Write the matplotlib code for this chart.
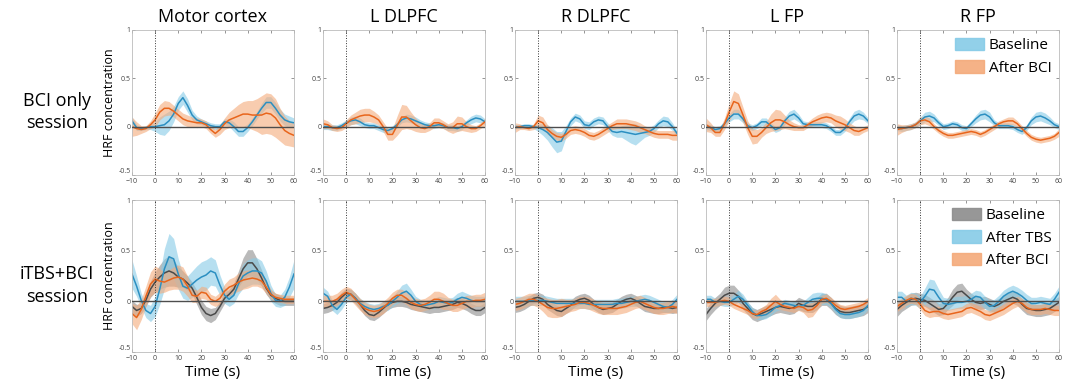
import numpy as np
import matplotlib.pyplot as plt
from matplotlib.patches import Patch

plt.rcParams['font.family'] = ['Open Sans', 'DejaVu Sans']

# time axis (s)
t = np.arange(-10, 61, 2)

regions = ['Motor cortex', 'L DLPFC', 'R DLPFC', 'L FP', 'R FP']
row_labels = ['BCI only\nsession', 'iTBS+BCI\nsession']
xticks = [-10, 0, 10, 20, 30, 40, 50, 60]
yticks = [-0.5, 0, 0.5, 1]
ytick_labels = ['-0.5', '0', '0.5', '1']

# ---------------- BCI only session ----------------
# Motor cortex
s1_base_mc = [.06, -.01, -.02, -.01, 0, 0, .01, .02, .06, .13, .24, .30, .22, .12, .07, .05, .03, .01,
              0, 0, .05, .04, 0, -.05, -.05, -.01, .05, .12, .19, .25, .25, .19, .12, .07, .05, .04]
s1_base_mc_sd = [.04, .03, .02, .02, .03, .05, .09, .11, .10, .08, .07, .07, .07, .05, .04, .03, .03, .03,
                 .03, .03, .03, .04, .05, .05, .05, .04, .04, .04, .05, .06, .06, .06, .06, .06, .06, .05]
s1_bci_mc = [0, -.02, -.03, -.02, .02, .07, .15, .19, .19, .16, .12, .08, .06, .05, .04, .04, .02, -.03,
             -.07, -.03, .03, .07, .09, .11, .13, .13, .12, .12, .12, .14, .13, .09, .02, -.04, -.07, -.09]
s1_bci_mc_sd = [.10, .07, .04, .03, .04, .07, .08, .08, .07, .06, .06, .06, .06, .05, .05, .04, .04, .04,
                .04, .05, .06, .08, .10, .12, .13, .14, .15, .17, .20, .21, .21, .20, .17, .15, .13, .12]
# L DLPFC
s1_base_ld = [0, 0, -.01, -.01, .01, .04, .06, .07, .05, .02, .01, .01, -.01, -.03, -.04, -.02, .02, .07,
              .09, .08, .06, .04, .02, .01, .01, .02, .01, -.01, -.01, -.02, 0, .04, .07, .09, .08, .05]
s1_base_ld_sd = [.03, .03, .03, .03, .03, .03, .04, .04, .04, .03, .03, .03, .03, .03, .03, .03, .03, .03,
                 .04, .04, .04, .03, .03, .03, .03, .03, .03, .03, .03, .03, .03, .03, .04, .04, .04, .03]
s1_bci_ld = [.03, .02, -.01, -.02, -.01, .03, .07, .09, .11, .12, .12, .10, .07, 0, -.08, -.08, .01, .10,
             .10, .06, .02, -.01, -.02, 0, .04, .04, .02, -.01, -.01, .03, .03, 0, -.02, -.02, .01, .05]
s1_bci_ld_sd = [.05, .04, .03, .03, .03, .04, .05, .06, .07, .07, .07, .06, .05, .05, .06, .06, .10, .13,
                .12, .09, .07, .05, .04, .04, .05, .05, .04, .04, .06, .08, .07, .05, .04, .03, .03, .04]
# R DLPFC
s1_base_rd = [0, 0, .01, .01, 0, -.01, -.03, -.06, -.11, -.16, -.15, -.05, .05, .10, .08, .02, .01, .05,
              .07, .06, 0, -.05, -.06, -.05, -.06, -.07, -.08, -.07, -.06, -.05, -.02, .03, .06, .05, 0, -.07]
s1_base_rd_sd = [.02, .02, .02, .02, .02, .04, .06, .08, .10, .11, .10, .06, .04, .04, .04, .04, .04, .04,
                 .04, .04, .04, .04, .05, .06, .08, .10, .11, .08, .05, .04, .04, .04, .05, .05, .04, .03]
s1_bci_rd = [-.01, 0, -.01, -.02, 0, .06, .04, -.03, -.07, -.10, -.11, -.08, -.04, -.03, -.04, -.06, -.09, -.10,
             -.08, -.05, -.02, .01, .03, .03, .03, .02, .01, -.01, -.03, -.05, -.07, -.08, -.08, -.08, -.09, -.09]
s1_bci_rd_sd = [.05, .03, .02, .02, .03, .06, .06, .05, .04, .04, .04, .04, .04, .04, .04, .04, .04, .04,
                .04, .04, .04, .04, .05, .05, .05, .05, .05, .05, .04, .04, .04, .04, .04, .04, .05, .05]
# L FP
s1_base_lf = [0, -.01, -.03, -.02, .03, .09, .13, .13, .08, .01, -.01, .01, .05, .05, .01, -.03, -.01, .06,
              .11, .13, .09, .03, .02, .02, .02, .02, .01, -.02, -.06, -.06, -.02, .05, .11, .13, .11, .06]
s1_base_lf_sd = [.03, .03, .03, .03, .03, .04, .05, .05, .04, .03, .03, .03, .04, .04, .03, .03, .03, .04,
                 .05, .05, .04, .03, .03, .03, .03, .03, .03, .03, .03, .03, .03, .04, .05, .05, .04, .03]
s1_bci_lf = [.02, -.01, -.06, -.06, .03, .15, .26, .24, .12, -.01, -.10, -.10, -.06, -.01, .04, .07, .07, .05,
             .02, 0, -.01, -.01, .02, .05, .07, .09, .10, .09, .06, .04, .02, -.01, -.04, -.05, -.03, -.01]
s1_bci_lf_sd = [.07, .05, .04, .04, .06, .09, .11, .10, .08, .07, .08, .07, .05, .06, .09, .11, .10, .07,
                .05, .04, .03, .03, .03, .04, .05, .05, .05, .05, .06, .07, .06, .05, .05, .04, .03, .03]
# R FP
s1_base_rf = [-.01, -.02, -.01, 0, .02, .06, .10, .11, .09, .04, 0, .01, .03, .02, -.01, -.02, .03, .08,
              .12, .13, .10, .04, .01, .01, .01, 0, -.03, -.05, -.01, .06, .10, .11, .09, .06, .02, 0]
s1_base_rf_sd = [.03, .03, .03, .03, .03, .04, .05, .05, .04, .03, .03, .03, .03, .03, .03, .03, .03, .04,
                 .05, .05, .05, .03, .03, .03, .03, .03, .03, .03, .03, .04, .05, .05, .05, .04, .03, .03]
s1_bci_rf = [-.03, -.02, -.01, 0, .02, .06, .07, .05, 0, -.04, -.07, -.09, -.09, -.08, -.07, -.06, -.05, -.06,
             -.08, -.06, -.03, 0, .03, .05, .06, .06, .03, -.02, -.07, -.11, -.13, -.14, -.13, -.12, -.10, -.06]
s1_bci_rf_sd = [.06, .04, .03, .03, .03, .04, .04, .04, .03, .03, .03, .03, .03, .03, .03, .03, .03, .03,
                .03, .03, .03, .03, .03, .03, .04, .04, .03, .03, .03, .03, .03, .03, .03, .03, .03, .04]

# ---------------- iTBS+BCI session ----------------
# Motor cortex
s2_base_mc = [-.05, -.09, -.07, .01, .12, .19, .24, .28, .30, .28, .24, .22, .18, .13, .04, -.06, -.12, -.14,
              -.12, -.05, .03, .07, .12, .22, .32, .38, .38, .32, .23, .13, .06, .03, .01, 0, 0, 0]
s2_base_mc_sd = [.06, .06, .05, .06, .08, .10, .12, .14, .15, .13, .10, .08, .07, .06, .07, .07, .07, .07,
                 .06, .05, .05, .05, .06, .08, .11, .13, .13, .10, .08, .06, .05, .05, .05, .04, .04, .04]
s2_tbs_mc = [.27, .15, .01, -.09, -.12, -.05, .12, .32, .44, .42, .27, .15, .13, .17, .21, .24, .26, .30,
             .28, .16, .06, .02, .06, .17, .25, .28, .30, .30, .28, .20, .08, .01, 0, .04, .14, .27]
s2_tbs_mc_sd = [.14, .10, .07, .07, .08, .10, .15, .20, .23, .20, .15, .12, .12, .13, .14, .15, .15, .14,
                .13, .10, .08, .07, .08, .10, .12, .13, .13, .13, .12, .10, .08, .06, .06, .08, .10, .14]
s2_bci_mc = [-.12, -.16, -.08, .05, .17, .22, .20, .19, .21, .23, .24, .22, .15, .06, .05, .09, .08, .02,
             0, .03, .10, .14, .16, .19, .21, .22, .23, .22, .20, .14, .07, .04, .03, .02, .02, .02]
s2_bci_mc_sd = [.10, .12, .10, .10, .12, .13, .12, .10, .10, .11, .12, .12, .10, .07, .06, .06, .06, .05,
                .05, .06, .07, .08, .08, .09, .09, .09, .08, .07, .07, .06, .05, .04, .04, .04, .04, .04]
# L DLPFC
s2_base_ld = [-.07, -.06, -.04, -.01, .04, .08, .07, .03, -.03, -.09, -.13, -.14, -.11, -.07, -.03, -.01, 0, 0,
              -.01, -.03, -.04, -.05, -.06, -.07, -.06, -.06, -.05, -.04, -.03, -.01, -.02, -.04, -.07, -.09, -.09, -.06]
s2_base_ld_sd = [.05, .05, .05, .05, .05, .05, .05, .05, .05, .05, .05, .05, .05, .05, .05, .05, .05, .05,
                 .05, .05, .05, .05, .05, .05, .05, .05, .05, .05, .05, .05, .05, .05, .05, .05, .05, .05]
s2_tbs_ld = [.08, .05, -.04, -.08, -.03, .04, .07, .03, -.02, -.05, -.07, -.08, -.07, -.05, -.04, 0, .04, .08,
             .10, .06, 0, -.03, -.04, -.03, -.02, 0, -.01, -.02, -.01, .02, .04, .03, .01, 0, 0, 0]
s2_tbs_ld_sd = [.06, .05, .05, .05, .05, .05, .05, .05, .05, .05, .05, .05, .05, .05, .05, .05, .06, .08,
                .08, .06, .05, .05, .05, .05, .05, .05, .05, .05, .05, .06, .06, .05, .05, .05, .05, .05]
s2_bci_ld = [0, 0, 0, .02, .06, .09, .07, .02, -.03, -.07, -.09, -.10, -.09, -.06, -.02, .03, .06, .06,
             .03, -.01, -.03, -.04, -.03, -.01, .02, .02, 0, -.02, -.04, -.04, -.02, 0, 0, .01, .01, .02]
s2_bci_ld_sd = [.06, .06, .06, .06, .06, .06, .06, .06, .06, .06, .06, .06, .06, .06, .06, .06, .06, .06,
                .06, .06, .06, .06, .06, .07, .08, .08, .08, .06, .06, .06, .06, .06, .06, .06, .06, .07]
# R DLPFC
s2_base_rd = [-.06, -.05, -.03, 0, .03, .04, .02, -.03, -.06, -.09, -.10, -.07, -.04, 0, .02, .03, .01, -.03,
              -.06, -.08, -.07, -.06, -.03, 0, .02, .03, .01, -.02, -.05, -.06, -.07, -.07, -.06, -.06, -.07, -.06]
s2_base_rd_sd = [.05, .05, .05, .05, .05, .05, .05, .05, .05, .05, .05, .05, .05, .05, .05, .05, .05, .05,
                 .05, .05, .05, .05, .05, .05, .05, .05, .05, .05, .05, .05, .05, .05, .05, .05, .05, .05]
s2_tbs_rd = [0, 0, 0, .01, .01, .01, .01, 0, -.01, -.02, -.02, -.02, -.02, -.02, -.02, -.02, -.03, -.03,
             -.03, -.03, -.03, -.03, -.02, -.02, -.01, 0, 0, .01, .02, .01, -.01, -.03, -.05, -.06, -.03, .02]
s2_tbs_rd_sd = [.05, .05, .05, .05, .05, .05, .05, .05, .05, .05, .05, .05, .05, .05, .05, .05, .05, .05,
                .05, .05, .05, .05, .05, .05, .05, .05, .05, .05, .05, .05, .05, .05, .05, .05, .05, .05]
s2_bci_rd = [-.03, -.02, 0, .02, .02, 0, -.03, -.06, -.07, -.07, -.06, -.05, -.04, -.03, -.01, -.01, -.02, -.04,
             -.06, -.07, -.07, -.07, -.07, -.06, -.05, -.03, -.01, 0, -.02, -.04, -.06, -.07, -.07, -.06, -.05, -.06]
s2_bci_rd_sd = [.06, .06, .06, .06, .06, .06, .07, .09, .09, .09, .09, .07, .06, .06, .06, .06, .06, .06,
                .06, .06, .06, .06, .06, .06, .06, .06, .06, .06, .06, .06, .06, .06, .06, .06, .06, .06]
# L FP
s2_base_lf = [-.13, -.07, -.02, .02, .06, .08, .08, .05, -.02, -.07, -.12, -.14, -.12, -.10, -.08, -.06, -.05, -.06,
              -.07, -.06, -.02, -.04, -.05, -.05, -.02, .02, .02, -.02, -.07, -.10, -.11, -.11, -.10, -.09, -.08, -.05]
s2_base_lf_sd = [.06, .06, .06, .06, .08, .08, .08, .06, .06, .06, .06, .06, .06, .06, .06, .06, .06, .06,
                 .06, .06, .06, .06, .06, .06, .06, .06, .06, .06, .06, .06, .06, .06, .06, .06, .06, .06]
s2_tbs_lf = [.02, .02, -.01, 0, -.01, -.01, .02, .05, .02, -.04, -.10, -.14, -.14, -.13, -.10, -.06, -.04, -.02,
             -.03, -.04, -.05, -.04, -.01, .02, .03, .03, .02, -.02, -.08, -.12, -.13, -.13, -.12, -.11, -.09, -.04]
s2_tbs_lf_sd = [.04, .04, .04, .04, .04, .04, .05, .06, .05, .04, .04, .04, .04, .04, .04, .04, .04, .04,
                .04, .04, .04, .04, .05, .06, .06, .06, .05, .04, .04, .04, .04, .04, .04, .04, .04, .04]
s2_bci_lf = [-.01, -.01, -.01, 0, .01, 0, -.03, -.05, -.07, -.09, -.12, -.13, -.10, -.08, -.04, 0, -.03, -.05,
             -.06, -.07, -.05, -.06, -.09, -.08, -.04, .02, .03, 0, -.04, -.07, -.08, -.07, -.06, -.05, -.03, 0]
s2_bci_lf_sd = [.04, .04, .04, .04, .04, .04, .04, .04, .04, .04, .04, .04, .04, .05, .07, .07, .05, .04,
                .04, .04, .04, .05, .07, .07, .05, .04, .04, .04, .04, .04, .04, .04, .04, .04, .04, .04]
# R FP
s2_base_rf = [-.08, -.04, -.01, .02, .03, .02, .01, -.02, -.05, -.08, -.07, -.02, .04, .09, .10, .06, .02, -.01,
              -.02, -.01, -.03, -.05, -.03, 0, .02, .04, .02, -.03, -.07, -.08, -.09, -.09, -.08, -.07, -.04, -.01]
s2_base_rf_sd = [.07, .06, .06, .06, .06, .06, .06, .06, .06, .06, .06, .06, .08, .08, .08, .06, .06, .06,
                 .06, .06, .06, .06, .06, .06, .06, .06, .06, .06, .06, .06, .06, .06, .06, .06, .06, .06]
s2_tbs_rf = [.04, .04, 0, .03, .02, -.01, .05, .12, .11, .04, -.02, -.03, -.02, -.01, -.01, 0, .02, .05,
             .04, -.01, -.05, -.04, 0, .05, .08, .10, .08, .05, .01, -.02, -.02, -.01, -.02, -.03, .02, .09]
s2_tbs_rf_sd = [.06, .06, .06, .06, .06, .06, .08, .10, .10, .08, .06, .06, .06, .06, .06, .06, .06, .06,
                .06, .06, .06, .06, .06, .06, .06, .06, .06, .06, .06, .06, .06, .06, .06, .06, .06, .06]
s2_bci_rf = [-.05, -.02, .01, .03, .02, -.03, -.09, -.11, -.10, -.10, -.12, -.13, -.12, -.11, -.10, -.07, -.06, -.08,
             -.10, -.13, -.14, -.12, -.10, -.08, -.05, -.02, 0, -.02, -.06, -.08, -.08, -.08, -.07, -.08, -.09, -.09]
s2_bci_rf_sd = [.05, .05, .05, .05, .05, .05, .05, .05, .05, .05, .05, .05, .05, .05, .05, .05, .05, .05,
                .05, .05, .05, .05, .05, .05, .05, .05, .05, .05, .05, .05, .05, .05, .05, .05, .05, .05]

# colours: (line, band)
c_base = ('#4a4a4a', '#8c8c8c')
c_tbs = ('#2b8fc1', '#86cbe7')
c_bci = ('#e8651c', '#f4aa7a')

row1 = [
    [(s1_base_mc, s1_base_mc_sd, c_tbs), (s1_bci_mc, s1_bci_mc_sd, c_bci)],
    [(s1_base_ld, s1_base_ld_sd, c_tbs), (s1_bci_ld, s1_bci_ld_sd, c_bci)],
    [(s1_base_rd, s1_base_rd_sd, c_tbs), (s1_bci_rd, s1_bci_rd_sd, c_bci)],
    [(s1_base_lf, s1_base_lf_sd, c_tbs), (s1_bci_lf, s1_bci_lf_sd, c_bci)],
    [(s1_base_rf, s1_base_rf_sd, c_tbs), (s1_bci_rf, s1_bci_rf_sd, c_bci)],
]
row2 = [
    [(s2_base_mc, s2_base_mc_sd, c_base), (s2_tbs_mc, s2_tbs_mc_sd, c_tbs), (s2_bci_mc, s2_bci_mc_sd, c_bci)],
    [(s2_base_ld, s2_base_ld_sd, c_base), (s2_tbs_ld, s2_tbs_ld_sd, c_tbs), (s2_bci_ld, s2_bci_ld_sd, c_bci)],
    [(s2_base_rd, s2_base_rd_sd, c_base), (s2_tbs_rd, s2_tbs_rd_sd, c_tbs), (s2_bci_rd, s2_bci_rd_sd, c_bci)],
    [(s2_base_lf, s2_base_lf_sd, c_base), (s2_tbs_lf, s2_tbs_lf_sd, c_tbs), (s2_bci_lf, s2_bci_lf_sd, c_bci)],
    [(s2_base_rf, s2_base_rf_sd, c_base), (s2_tbs_rf, s2_tbs_rf_sd, c_tbs), (s2_bci_rf, s2_bci_rf_sd, c_bci)],
]

fig = plt.figure(figsize=(10.8, 3.9), dpi=100)
lefts = [0.1222, 0.2991, 0.4769, 0.6537, 0.8306]
rows = [(0.5513, 0.3718, row1), (0.0974, 0.3897, row2)]

for r, (bottom, height, rowdata) in enumerate(rows):
    for c, series in enumerate(rowdata):
        ax = fig.add_axes([lefts[c], bottom, 0.15, height])
        for mean, sd, (lc, bc) in series:
            m = np.array(mean)
            s = np.array(sd)
            ax.fill_between(t, m - s, m + s, color=bc, alpha=0.6, lw=0)
        for mean, sd, (lc, bc) in series:
            ax.plot(t, mean, color=lc, lw=1.1)
        ax.axhline(0, color='#4d4d4d', lw=1.0, zorder=3)
        ax.axvline(0, color='#333333', lw=0.7, ls=':', zorder=3)
        ax.set_xlim(-10, 60)
        ax.set_ylim(-0.5, 1)
        ax.set_xticks(xticks)
        ax.set_yticks(yticks)
        ax.set_yticklabels(ytick_labels)
        ax.tick_params(direction='in', length=2, width=0.4, labelsize=5, colors='#444444',
                       top=True, right=True, pad=1)
        ax.tick_params(axis='x', pad=2)
        # lift the lowest y label off the corner so it does not sit on "-10"
        ax.get_yticklabels()[0].set_va('bottom')
        for sp in ax.spines.values():
            sp.set_color('#bbbbbb')
            sp.set_linewidth(0.6)
        if r == 0:
            ax.set_title(regions[c], fontsize=13, pad=6)
        else:
            ax.set_xlabel('Time (s)', fontsize=11, labelpad=2)
        if c == 0:
            ax.set_ylabel('HRF concentration', fontsize=9, labelpad=2)
        if c == 4:
            if r == 0:
                handles = [Patch(color=c_tbs[1], alpha=0.9), Patch(color=c_bci[1], alpha=0.9)]
                labels = ['Baseline', 'After BCI']
            else:
                handles = [Patch(color=c_base[1], alpha=0.9), Patch(color=c_tbs[1], alpha=0.9),
                           Patch(color=c_bci[1], alpha=0.9)]
                labels = ['Baseline', 'After TBS', 'After BCI']
            ax.legend(handles, labels, loc='upper right', frameon=False, fontsize=11,
                      handlelength=1.9, handleheight=0.9, handletextpad=0.3, labelspacing=0.45,
                      borderaxespad=0.1)

fig.text(0.053, 0.713, row_labels[0], ha='center', va='center', fontsize=13, linespacing=1.3)
fig.text(0.053, 0.268, row_labels[1], ha='center', va='center', fontsize=13, linespacing=1.3)

fig.savefig('out.png', dpi=100)
